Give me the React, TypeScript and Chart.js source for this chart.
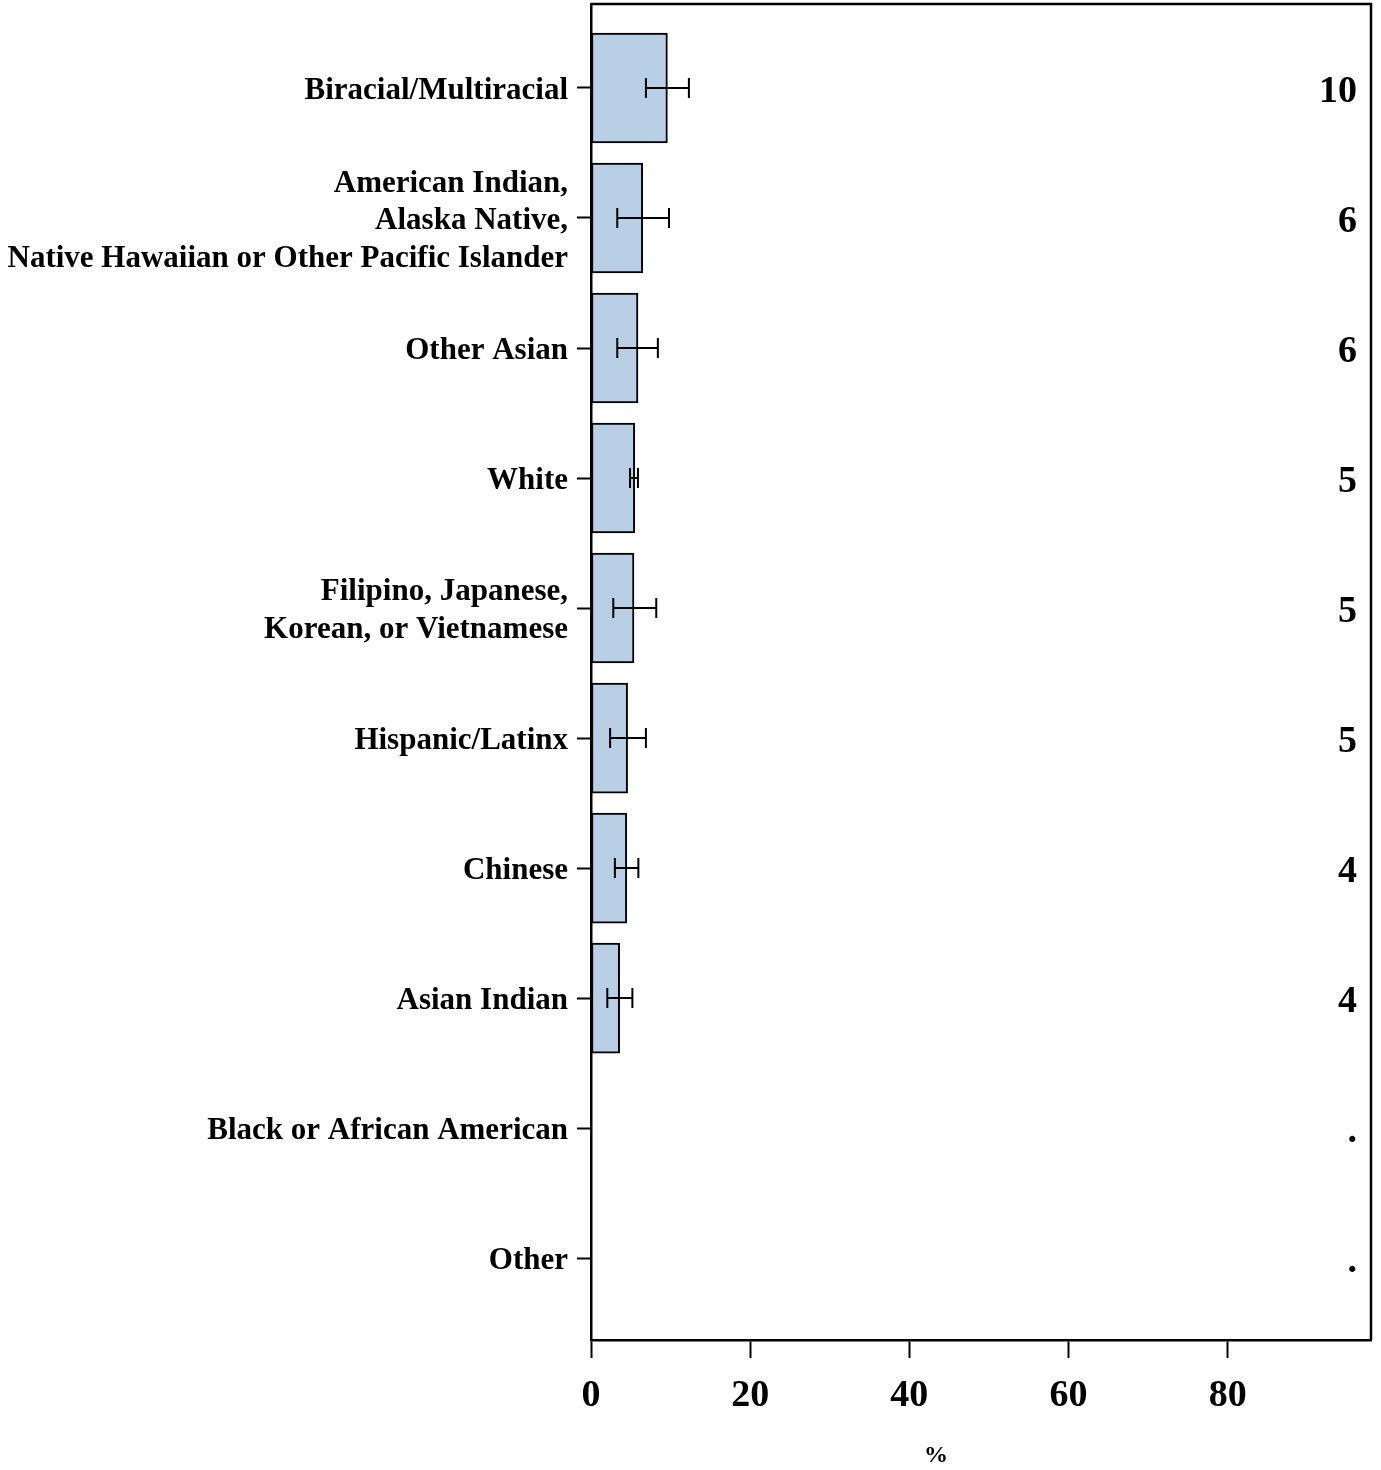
import React, { useEffect, useRef } from "react";
import { Chart, registerables } from "chart.js";

Chart.register(...registerables);

const categories: (string | string[])[] = [
  "Biracial/Multiracial",
  ["American Indian,", "Alaska Native,", "Native Hawaiian or Other Pacific Islander"],
  "Other Asian",
  "White",
  ["Filipino, Japanese,", "Korean, or Vietnamese"],
  "Hispanic/Latinx",
  "Chinese",
  "Asian Indian",
  "Black or African American",
  "Other",
];
const values: (number | null)[] = [9.6, 6.5, 5.9, 5.5, 5.4, 4.6, 4.5, 3.6, null, null];
const lowerCI: (number | null)[] = [6.9, 3.3, 3.3, 4.9, 2.8, 2.4, 3.0, 2.05, null, null];
const upperCI: (number | null)[] = [12.3, 9.8, 8.4, 5.9, 8.2, 6.9, 5.95, 5.2, null, null];
const rightLabels: string[] = ["10", "6", "6", "5", "5", "5", "4", "4", ".", "."];
const xTicks: number[] = [0, 20, 40, 60, 80];
const xMax = 98;
const xTitle = "%";

const FONT = "'Liberation Serif', 'Times New Roman', serif";

export default function App() {
  const ref = useRef<HTMLCanvasElement | null>(null);
  useEffect(() => {
    document.body.style.margin = "0";
    const canvas = ref.current!;
    const extras = {
      id: "extras",
      afterDatasetsDraw(chart: any) {
        const ctx = chart.ctx;
        const xs = chart.scales.x;
        const ys = chart.scales.y;
        const area = chart.chartArea;
        ctx.save();
        // error bars
        ctx.strokeStyle = "#000";
        ctx.lineWidth = 2;
        for (let i = 0; i < values.length; i++) {
          const lo = lowerCI[i];
          const hi = upperCI[i];
          if (lo == null || hi == null) continue;
          const y = ys.getPixelForValue(i);
          const x1 = xs.getPixelForValue(lo);
          const x2 = xs.getPixelForValue(hi);
          ctx.beginPath();
          ctx.moveTo(x1, y);
          ctx.lineTo(x2, y);
          ctx.moveTo(x1, y - 10);
          ctx.lineTo(x1, y + 10);
          ctx.moveTo(x2, y - 10);
          ctx.lineTo(x2, y + 10);
          ctx.stroke();
        }
        // top and right border
        ctx.lineWidth = 2.5;
        ctx.beginPath();
        ctx.moveTo(area.left, area.top);
        ctx.lineTo(area.right, area.top);
        ctx.lineTo(area.right, area.bottom);
        ctx.stroke();
        // right value labels
        ctx.fillStyle = "#000";
        ctx.font = `bold 38px ${FONT}`;
        ctx.textAlign = "right";
        ctx.textBaseline = "middle";
        for (let i = 0; i < rightLabels.length; i++) {
          const y = ys.getPixelForValue(i);
          ctx.fillText(rightLabels[i], area.right - 14, y + 4);
        }
        // x title
        ctx.font = `bold 24px ${FONT}`;
        ctx.textAlign = "center";
        ctx.textBaseline = "middle";
        ctx.fillText(xTitle, 936, 1456);
        ctx.restore();
      },
    };
    const chart = new Chart(canvas, {
      type: "bar",
      data: {
        datasets: [
          {
            data: values.map((v, i) => ({ x: v, y: i })) as any,
            backgroundColor: "rgb(185,207,230)",
            borderColor: "#000",
            borderWidth: 2,
            borderSkipped: false,
            barThickness: 110,
          },
        ],
      },
      options: {
        indexAxis: "y",
        animation: false,
        responsive: false,
        maintainAspectRatio: false,
        layout: { padding: { top: 4, right: 10, left: 0, bottom: 0 } },
        plugins: { legend: { display: false }, tooltip: { enabled: false } },
        scales: {
          x: {
            type: "linear",
            min: 0,
            max: xMax,
            offset: false,
            afterBuildTicks: (s: any) => {
              s.ticks = xTicks.map((v) => ({ value: v }));
            },
            afterFit: (s: any) => {
              s.height = 130;
              s.paddingLeft = 0;
              s.paddingRight = 0;
            },
            grid: {
              drawOnChartArea: false,
              offset: false,
              tickLength: 18,
              tickWidth: 2,
              tickColor: "#000",
            },
            border: { display: true, color: "#000", width: 2.5 },
            ticks: {
              color: "#000",
              padding: 15,
              font: { family: FONT, size: 38, weight: "bold" },
              maxRotation: 0,
            },
          },
          y: {
            type: "linear",
            reverse: true,
            min: -0.646,
            max: 9.63,
            offset: false,
            afterBuildTicks: (s: any) => {
              s.ticks = categories.map((_, i) => ({ value: i }));
            },
            afterFit: (s: any) => {
              s.width = 591;
              s.paddingTop = 0;
              s.paddingBottom = 0;
            },
            grid: {
              drawOnChartArea: false,
              offset: false,
              tickLength: 14,
              tickWidth: 2,
              tickColor: "#000",
            },
            border: { display: true, color: "#000", width: 2.5 },
            ticks: {
              color: "#000",
              padding: 9,
              labelOffset: 3,
              autoSkip: false,
              font: { family: FONT, size: 31, weight: "bold", lineHeight: 1.21 },
              callback: (v: any) => categories[Math.round(Number(v))] as any,
            },
          },
        },
      },
      plugins: [extras],
    });
    return () => chart.destroy();
  }, []);
  return (
    <div style={{ width: 1381, height: 1470 }}>
      <canvas ref={ref} width={1381} height={1470} style={{ display: "block", width: 1381, height: 1470 }} />
    </div>
  );
}
